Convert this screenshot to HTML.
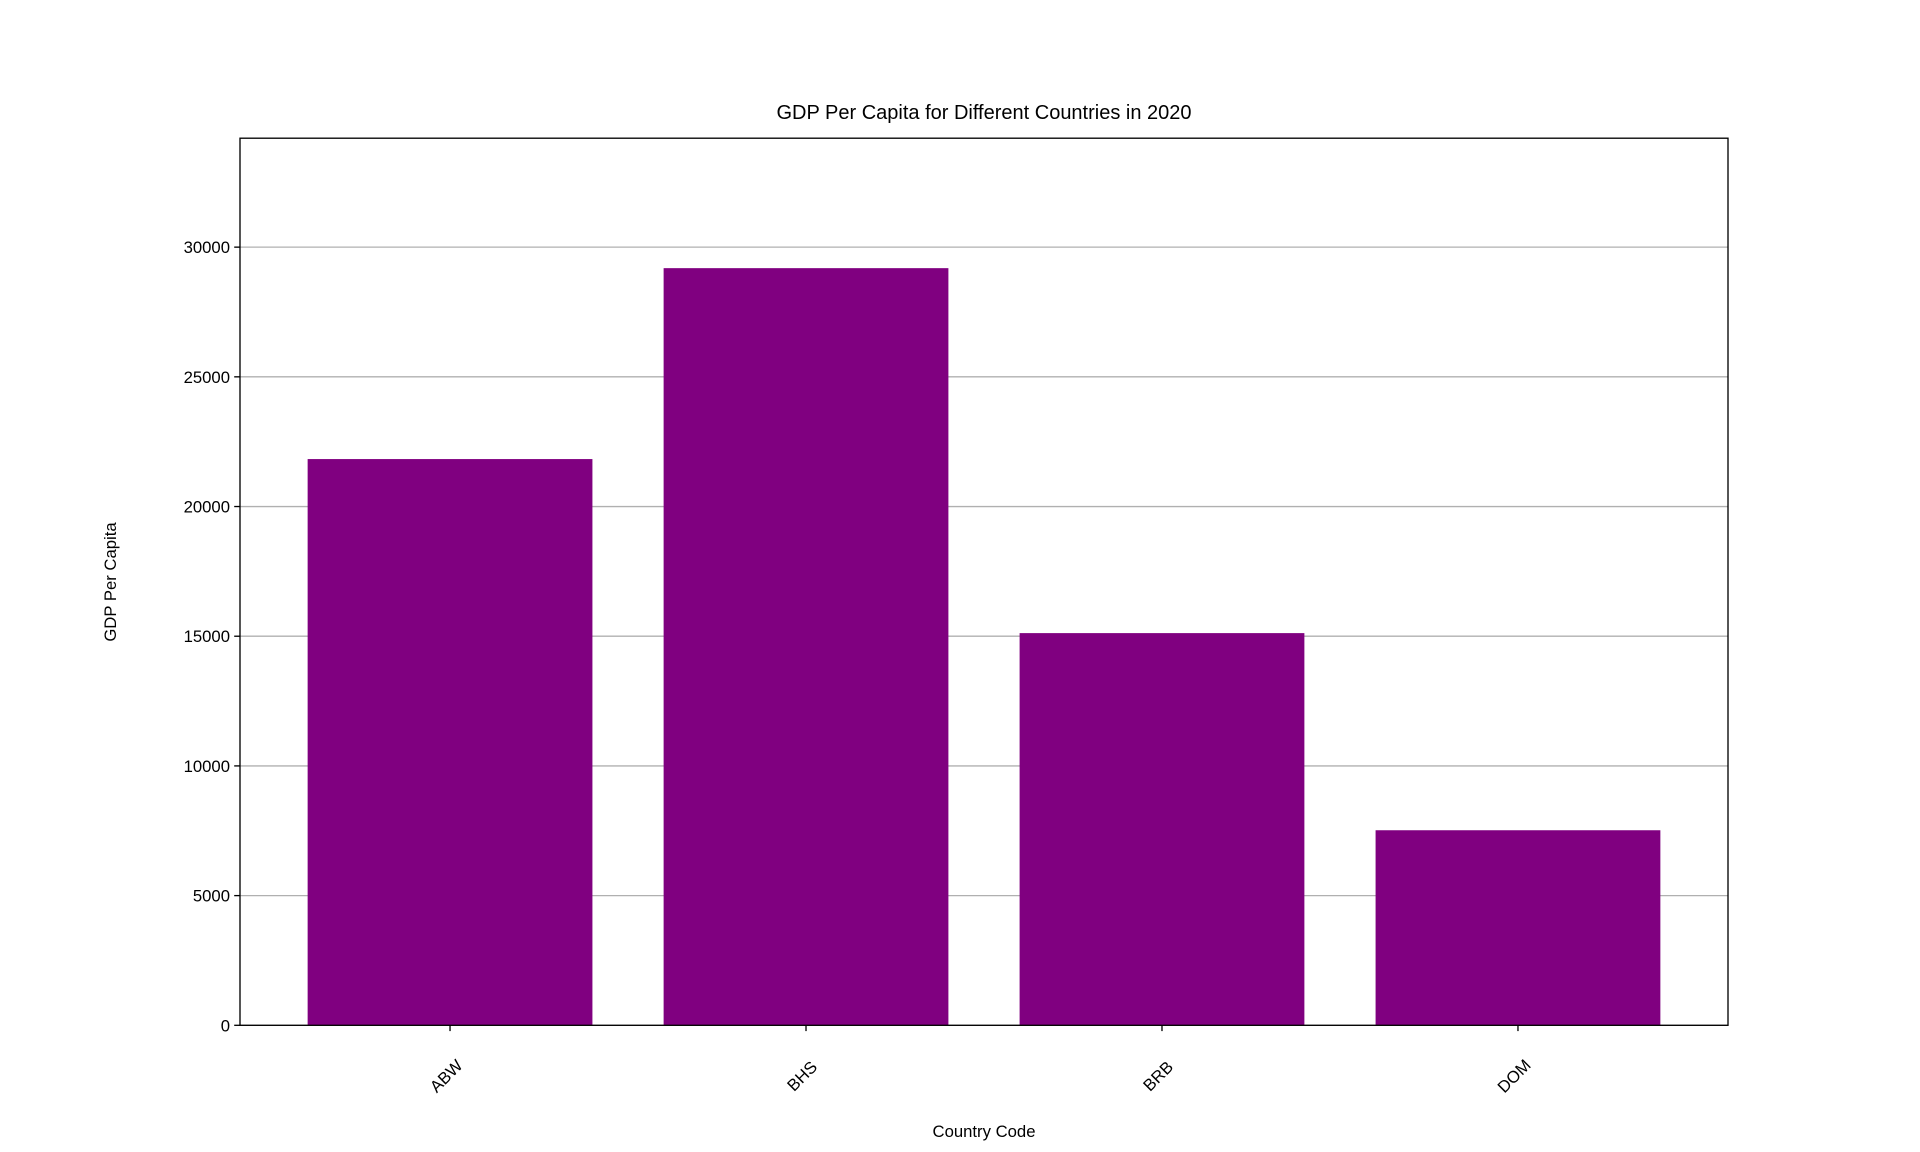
<!DOCTYPE html>
<html><head><meta charset="utf-8"><style>
html,body{margin:0;padding:0;background:#fff;}
svg{display:block;font-family:"Liberation Sans","DejaVu Sans",sans-serif;}
</style></head><body>
<svg id="chart" width="1920" height="1152" viewBox="0 0 1920 1152">
<rect x="0" y="0" width="1920" height="1152" fill="#fff"/>
<g id="grid"></g><g id="bars"></g><g id="axes"></g>
<text x="984" y="119" font-size="20" text-anchor="middle" fill="#000">GDP Per Capita for Different Countries in 2020</text>
<text x="984" y="1137" font-size="16.7" text-anchor="middle" fill="#000">Country Code</text>
<text x="0" y="0" font-size="16.7" text-anchor="middle" fill="#000" transform="translate(116,582) rotate(-90)">GDP Per Capita</text>
</svg>
<script>
const categories = ["ABW","BHS","BRB","DOM"];
const values = [21830, 29190, 15120, 7520];
const yTicks = [0,5000,10000,15000,20000,25000,30000];
const L=240,R=1728,T=138.2,B=1025.3,yMax=34200,xMin=-0.59,xMax=3.59;
const NS="http://www.w3.org/2000/svg";
const sx=v=>L+(v-xMin)/(xMax-xMin)*(R-L);
const sy=v=>B-v/yMax*(B-T);
function mk(t,a,p){const e=document.createElementNS(NS,t);for(const k in a)e.setAttribute(k,a[k]);p.appendChild(e);return e;}
const grid=document.getElementById('grid'),bars=document.getElementById('bars'),axes=document.getElementById('axes');
yTicks.forEach(v=>{
  const g=mk('line',{x1:L,x2:R,y1:sy(v),y2:sy(v),stroke:'#b0b0b0','stroke-width':1.33},grid);
  
  
  const tk=mk('line',{x1:L-5.8,x2:L,y1:sy(v),y2:sy(v),stroke:'#000','stroke-width':1.33},axes);
  
  
  const t=mk('text',{x:L-10,y:sy(v)+6,'font-size':16.7,'text-anchor':'end',fill:'#000'},axes);
  t.textContent=v;
  
  
});
categories.forEach((c,i)=>{
  const x0=sx(i-0.4),x1=sx(i+0.4),y=sy(values[i]);
  const r=mk('rect',{x:x0,y:y,width:x1-x0,height:B-y,fill:'#800080'},bars);
  
  
  const cx=sx(i);
  const tk=mk('line',{x1:cx,x2:cx,y1:B,y2:B+5.8,stroke:'#000','stroke-width':1.33},axes);
  
  
  const t=mk('text',{x:0,y:0,'font-size':16.7,'text-anchor':'middle','dominant-baseline':'middle',fill:'#000',transform:`translate(${cx-3},1077) rotate(-45)`},axes);
  t.textContent=c;
  
  
});
const f=mk('rect',{x:L,y:T,width:R-L,height:B-T,fill:'none',stroke:'#000','stroke-width':1.33},axes);


</script>
</body></html>
